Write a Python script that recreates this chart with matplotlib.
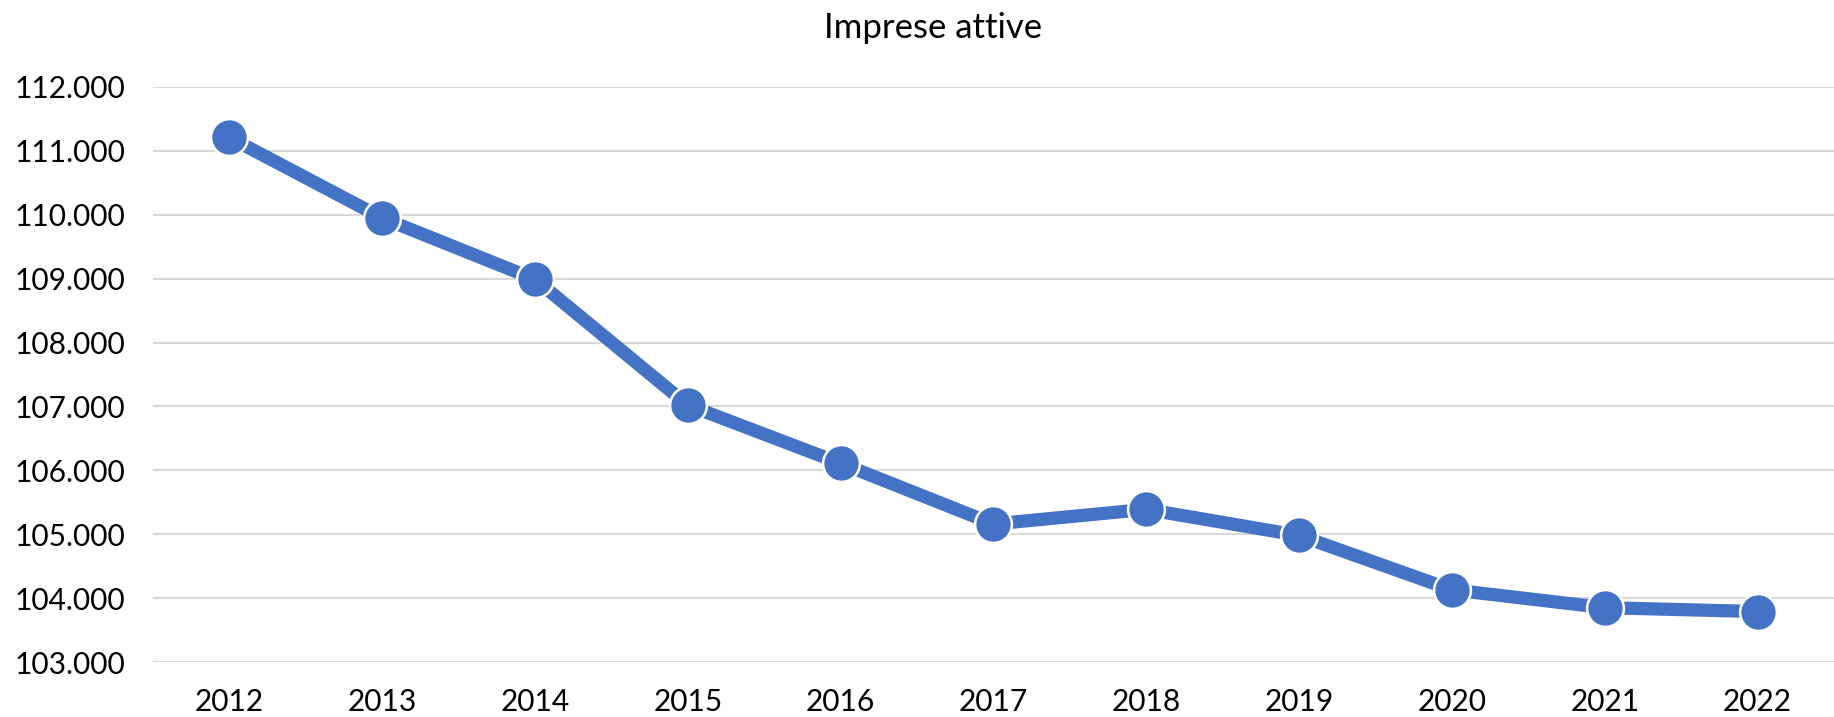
import matplotlib
matplotlib.use("Agg")
import matplotlib.pyplot as plt
from matplotlib.ticker import FuncFormatter, MultipleLocator

years = ["2012", "2013", "2014", "2015", "2016", "2017", "2018", "2019", "2020", "2021", "2022"]
imprese = [111210, 109950, 108990, 107020, 106110, 105160, 105390, 104980, 104130, 103850, 103790]
title = "Imprese attive"

plt.rcParams['font.family'] = ['Lato', 'DejaVu Sans']

fig = plt.figure(figsize=(18.34, 7.17), dpi=100)
ax = fig.add_axes([0.0834, 0.0767, 0.9166, 0.802])

x = list(range(len(years)))
ax.plot(x, imprese, color="#4472C4", linewidth=9.5, marker="o", markersize=26.5,
        markerfacecolor="#4472C4", markeredgecolor="white", markeredgewidth=1.8,
        solid_capstyle="butt", zorder=3)

ax.set_xlim(-0.5, len(years) - 0.5)
ax.set_ylim(103000, 112000)
ax.yaxis.set_major_locator(MultipleLocator(1000))
ax.yaxis.set_major_formatter(FuncFormatter(lambda v, p: f"{int(round(v)):,}".replace(",", ".")))
ax.set_xticks(x)
ax.set_xticklabels(years)
ax.grid(axis="y", color="#d9d9d9", linewidth=1.5, zorder=0)
ax.set_axisbelow(True)
for s in ax.spines.values():
    s.set_visible(False)
ax.tick_params(axis="both", length=0, labelsize=21.5, colors="black")
ax.tick_params(axis="y", pad=20)
ax.tick_params(axis="x", pad=19)

fig.text(0.5087, 0.961, title, ha="center", va="center", fontsize=25)

fig.savefig("out.png", dpi=100, facecolor="white")
